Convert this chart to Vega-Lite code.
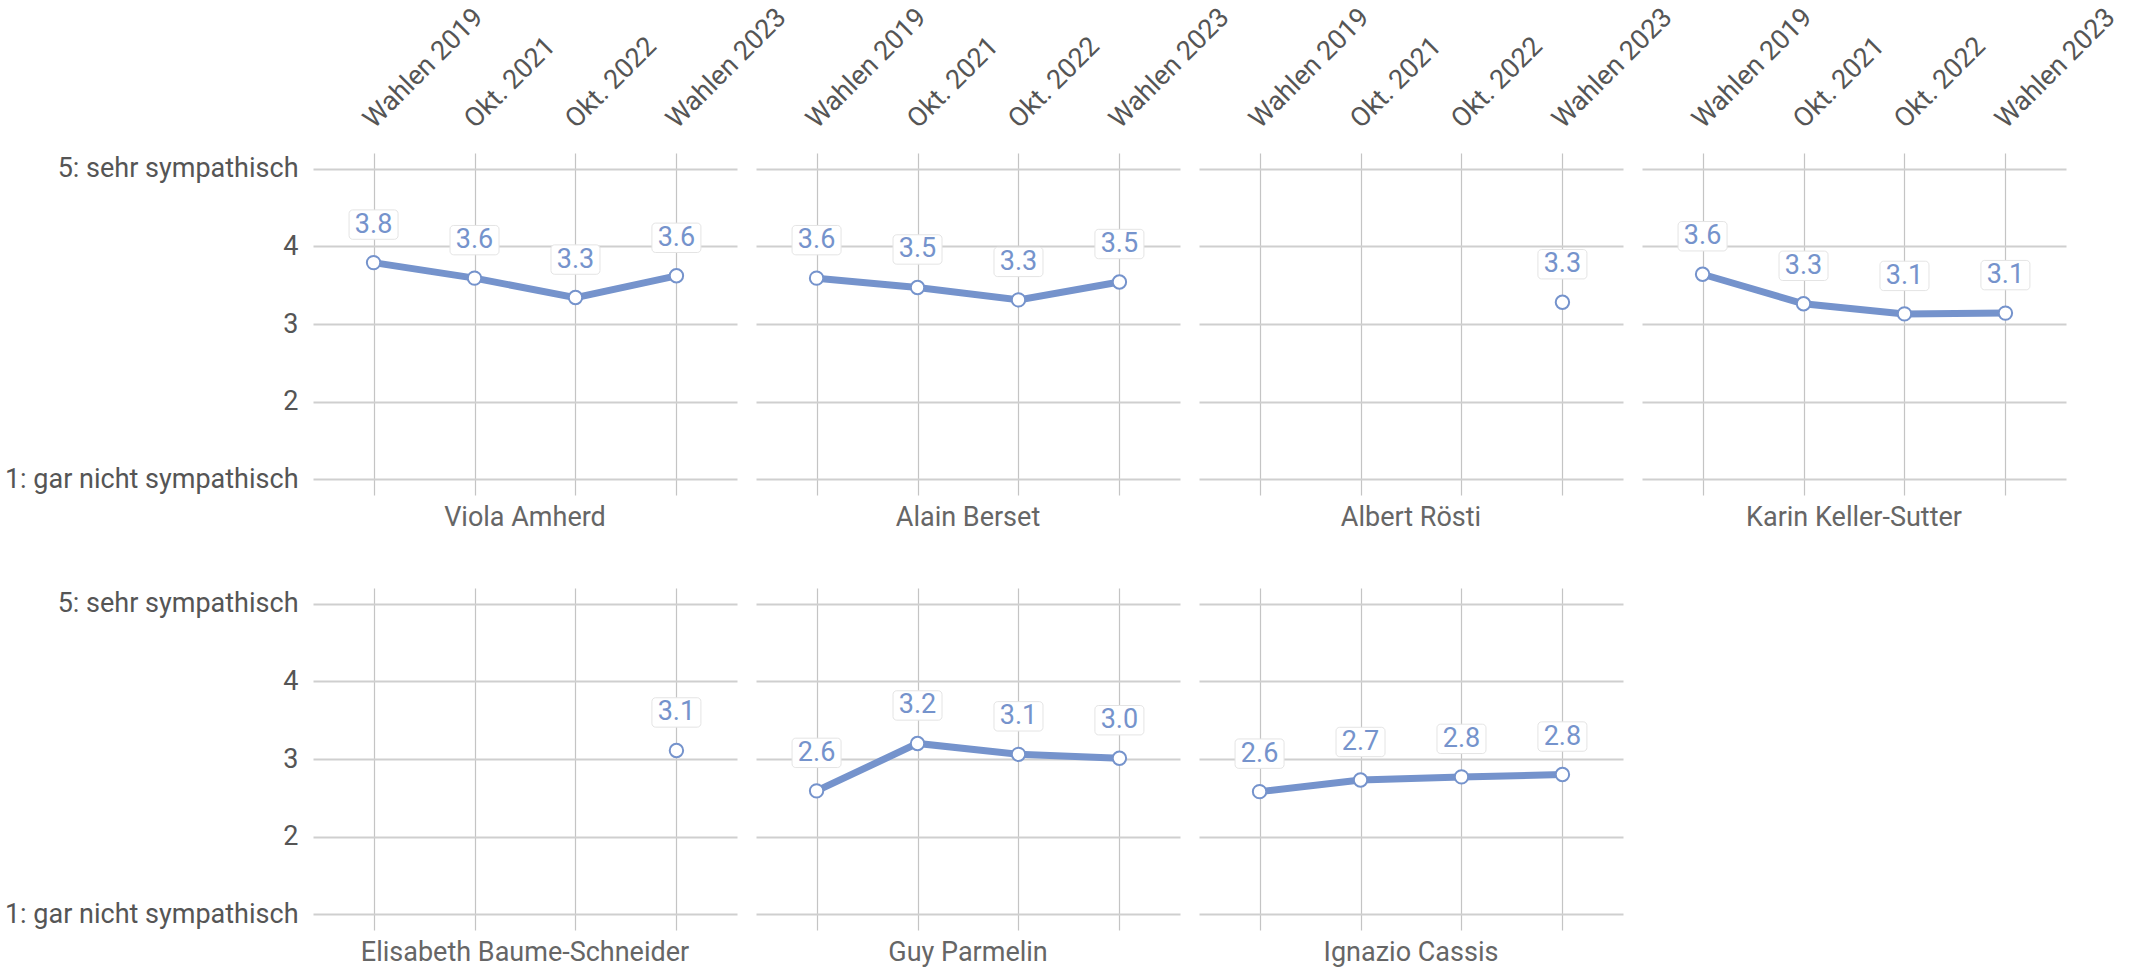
{
  "$schema": "https://vega.github.io/schema/vega-lite/v6.json",
  "background": "white",
  "padding": {"left": 4, "top": 2, "right": 5, "bottom": 2},
  "data": {
    "values": [
      {"name": "Viola Amherd", "wave": "Wahlen 2019", "value": 3.79},
      {"name": "Viola Amherd", "wave": "Okt. 2021", "value": 3.59},
      {"name": "Viola Amherd", "wave": "Okt. 2022", "value": 3.34},
      {"name": "Viola Amherd", "wave": "Wahlen 2023", "value": 3.62},
      {"name": "Alain Berset", "wave": "Wahlen 2019", "value": 3.59},
      {"name": "Alain Berset", "wave": "Okt. 2021", "value": 3.47},
      {"name": "Alain Berset", "wave": "Okt. 2022", "value": 3.31},
      {"name": "Alain Berset", "wave": "Wahlen 2023", "value": 3.54},
      {"name": "Albert Rösti", "wave": "Wahlen 2023", "value": 3.28},
      {"name": "Karin Keller-Sutter", "wave": "Wahlen 2019", "value": 3.64},
      {"name": "Karin Keller-Sutter", "wave": "Okt. 2021", "value": 3.26},
      {"name": "Karin Keller-Sutter", "wave": "Okt. 2022", "value": 3.13},
      {"name": "Karin Keller-Sutter", "wave": "Wahlen 2023", "value": 3.14},
      {"name": "Elisabeth Baume-Schneider", "wave": "Wahlen 2023", "value": 3.11},
      {"name": "Guy Parmelin", "wave": "Wahlen 2019", "value": 2.59},
      {"name": "Guy Parmelin", "wave": "Okt. 2021", "value": 3.2},
      {"name": "Guy Parmelin", "wave": "Okt. 2022", "value": 3.06},
      {"name": "Guy Parmelin", "wave": "Wahlen 2023", "value": 3.01},
      {"name": "Ignazio Cassis", "wave": "Wahlen 2019", "value": 2.58},
      {"name": "Ignazio Cassis", "wave": "Okt. 2021", "value": 2.73},
      {"name": "Ignazio Cassis", "wave": "Okt. 2022", "value": 2.77},
      {"name": "Ignazio Cassis", "wave": "Wahlen 2023", "value": 2.8}
    ]
  },
  "columns": 4,
  "spacing": {"column": 19, "row": 57},
  "facet": {
    "field": "name",
    "type": "nominal",
    "sort": ["Viola Amherd", "Alain Berset", "Albert Rösti", "Karin Keller-Sutter", "Elisabeth Baume-Schneider", "Guy Parmelin", "Ignazio Cassis"],
    "header": {
      "title": null,
      "labelOrient": "bottom",
      "labelFont": "Roboto",
      "labelFontSize": 27,
      "labelColor": "#666666",
      "labelPadding": 10
    }
  },
  "spec": {
    "width": 424,
    "height": 342,
    "encoding": {
      "x": {
        "field": "wave",
        "type": "ordinal",
        "sort": ["Wahlen 2019", "Okt. 2021", "Okt. 2022", "Wahlen 2023"],
        "scale": {"type": "point", "padding": 0.6},
        "axis": {
          "orient": "top",
          "title": null,
          "labelAngle": 315,
          "labelAlign": "left",
          "labelBaseline": "alphabetic",
          "labelPadding": 24,
          "labelFont": "Roboto",
          "labelFontSize": 27,
          "labelColor": "#555555",
          "ticks": false,
          "domain": false,
          "grid": true,
          "gridColor": "#c4c4c4",
          "gridWidth": 1.2
        }
      },
      "y": {
        "field": "value",
        "type": "quantitative",
        "scale": {"domain": [0.8, 5.2], "nice": false, "zero": false},
        "axis": {
          "title": null,
          "values": [1, 2, 3, 4, 5],
          "labelExpr": "datum.value == 5 ? '5: sehr sympathisch' : datum.value == 1 ? '1: gar nicht sympathisch' : datum.label",
          "labelFont": "Roboto",
          "labelFontSize": 27,
          "labelColor": "#555555",
          "labelPadding": 15,
          "labelLimit": 500,
          "ticks": false,
          "domain": false,
          "grid": true,
          "gridColor": "#cfcfcf",
          "gridWidth": 2
        }
      }
    },
    "layer": [
      {"mark": {"type": "line", "color": "#7593cc", "strokeWidth": 7}},
      {"mark": {"type": "point", "filled": true, "fill": "white", "stroke": "#7593cc", "strokeWidth": 2, "size": 180, "opacity": 1}},
      {"mark": {"type": "point", "shape": "M-0.85,-0.6 L0.85,-0.6 A0.15,0.15 0 0 1 1,-0.45 L1,0.45 A0.15,0.15 0 0 1 0.85,0.6 L-0.85,0.6 A0.15,0.15 0 0 1 -1,0.45 L-1,-0.45 A0.15,0.15 0 0 1 -0.85,-0.6 Z", "size": 2401, "filled": true, "fill": "white", "stroke": "#e4e4e4", "strokeWidth": 1, "opacity": 1, "yOffset": -38}},
      {"mark": {"type": "text", "color": "#7593cc", "font": "Roboto", "fontSize": 27, "baseline": "middle", "dy": -38}, "encoding": {"text": {"field": "value", "type": "quantitative", "format": ".1f"}}}
    ]
  },
  "config": {"view": {"stroke": null}}
}
